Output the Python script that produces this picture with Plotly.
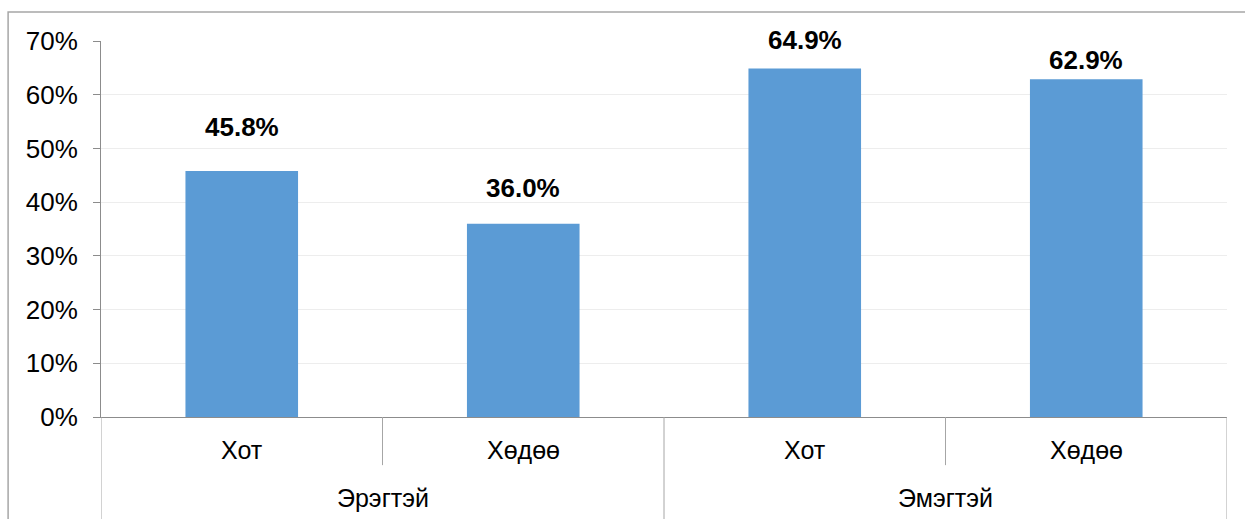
import plotly.graph_objects as go

# Survey shares by sex and settlement type
groups = ["Эрэгтэй", "Эмэгтэй"]
subcats = ["Хот", "Хөдөө"]
values = [45.8, 36.0, 64.9, 62.9]
value_labels = ["45.8%", "36.0%", "64.9%", "62.9%"]
y_ticks = [0, 10, 20, 30, 40, 50, 60, 70]
y_tick_labels = ["0%", "10%", "20%", "30%", "40%", "50%", "60%", "70%"]

# vertical offset (px) of each value label above its bar
label_shift_px = [27, 19, 11, 2]

BAR = "#5B9BD5"
AXIS = "#8C8C8C"
FONT = "Liberation Sans, Arial, sans-serif"

n = len(values)
xs = list(range(n))

fig = go.Figure()
fig.add_trace(go.Bar(
    x=xs, y=values, marker=dict(color=BAR, line=dict(width=0)),
    width=0.4, hoverinfo="skip", showlegend=False,
))

# value labels above each bar
for x, v, t, s in zip(xs, values, value_labels, label_shift_px):
    fig.add_annotation(x=x, y=v, text=f"<b>{t}</b>", showarrow=False,
                       yanchor="bottom", yshift=s,
                       font=dict(family=FONT, size=26, color="#000000"))

# two-level category labels
sub_per_group = len(subcats)
for i, x in enumerate(xs):
    fig.add_annotation(x=x, y=0, xref="x", yref="paper", yshift=-33,
                       text=subcats[i % sub_per_group], showarrow=False,
                       yanchor="middle",
                       font=dict(family=FONT, size=25, color="#000000"))
for g, name in enumerate(groups):
    center = g * sub_per_group + (sub_per_group - 1) / 2
    fig.add_annotation(x=center, y=0, xref="x", yref="paper", yshift=-81,
                       text=name, showarrow=False, yanchor="middle",
                       font=dict(family=FONT, size=25, color="#000000"))

# divider lines of the category axis
for i in range(n + 1):
    xb = i - 0.5
    is_group = i % sub_per_group == 0
    fig.add_shape(type="line", xref="x", yref="paper",
                  x0=xb, x1=xb, y0=0, y1=-0.33 if is_group else -0.128,
                  line=dict(color="#A6A6A6", width=1))

# outer chart border
fig.add_shape(type="rect", xref="paper", yref="paper",
              x0=-0.0825, x1=1.05, y0=-0.4, y1=1.0771,
              line=dict(color="#A6A6A6", width=1.5), fillcolor="rgba(0,0,0,0)")

fig.update_xaxes(range=[-0.5, n - 0.5], showticklabels=False, ticks="",
                 showgrid=False, zeroline=False, showline=True,
                 linecolor=AXIS, linewidth=1)
fig.update_yaxes(range=[0, 70], tickvals=y_ticks, ticktext=y_tick_labels,
                 ticks="outside", ticklen=7, tickcolor=AXIS,
                 ticklabelstandoff=10,
                 showline=True, linecolor=AXIS, linewidth=1,
                 showgrid=True, gridcolor="#EDEDED", gridwidth=1,
                 zeroline=False,
                 tickfont=dict(family=FONT, size=26, color="#000000"))

fig.update_layout(
    width=1245, height=519,
    margin=dict(l=101, r=18, t=41, b=102),
    paper_bgcolor="#FFFFFF", plot_bgcolor="#FFFFFF",
    bargap=0.6, font=dict(family=FONT),
)

fig.write_html("out.html")
